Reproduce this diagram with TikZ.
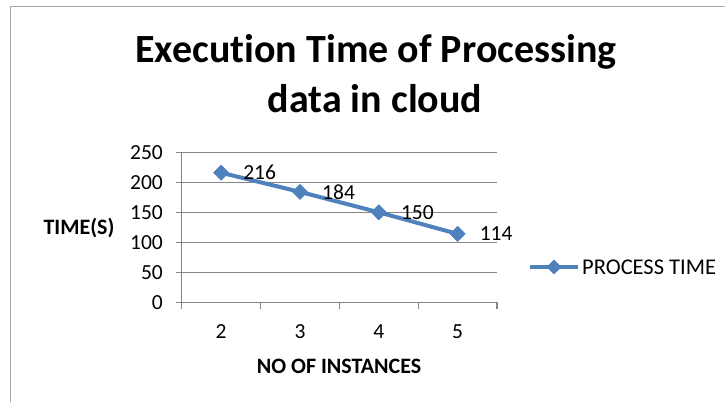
\documentclass[tikz,border=0pt]{standalone}
\usepackage{fontspec}
\setmainfont[RawFeature={-liga}]{Carlito}
\usetikzlibrary{shapes.geometric}
\definecolor{serblue}{HTML}{4F81BD}
\definecolor{gridgray}{HTML}{868686}
\definecolor{framegray}{HTML}{A6A6A6}
\begin{document}
\begin{tikzpicture}[x=1pt,y=-1pt,
  gridline/.style={draw=gridgray,line width=1.3pt},
  axisline/.style={draw=gridgray,line width=1.3pt},
  ticklab/.style={inner sep=0pt,font=\fontsize{21.5}{24}\selectfont},
  datalab/.style={inner sep=0pt,anchor=west,font=\fontsize{21.5}{24}\selectfont},
  boldlab/.style={inner sep=0pt,font=\bfseries\fontsize{22}{26}\selectfont},
  marker/.style={diamond,fill=serblue,draw=serblue,line width=0.6pt,inner sep=0pt,minimum size=15pt},
  serline/.style={draw=serblue,line width=4pt,line join=round}]
\useasboundingbox (0,0) rectangle (725,402);
\fill[white] (0,0) rectangle (725,402);
% outer frame
\draw[framegray,line width=1.6pt] (10.5,402) -- (10.5,6.5) -- (725,6.5);
% title
\node[anchor=base,inner sep=0pt,font=\bfseries\fontsize{40}{44}\selectfont] (t1) at (376,62) {Execution Time of Processing};
\node[anchor=base,inner sep=0pt,font=\bfseries\fontsize{40}{44}\selectfont] (t2) at (375,112) {data in cloud};
% grid and y ticks
\foreach \v in {0,50,...,250}{
  \pgfmathsetmacro{\yy}{302.3-0.6*\v}
  \draw[gridline] (176,\yy) -- (181.7,\yy);
  \node[ticklab,anchor=east] (yl\v) at (163,\yy) {\v};
}
\foreach \v in {50,100,...,250}{
  \pgfmathsetmacro{\yy}{302.3-0.6*\v}
  \draw[gridline] (181.7,\yy) -- (497,\yy);
}
% axes
\draw[axisline] (181.7,152.3) -- (181.7,302.3);
\draw[axisline] (181.7,302.3) -- (497,302.3);
\foreach \xx in {181.7,260.5,339.3,418.2,497}{
  \draw[axisline] (\xx,302.3) -- (\xx,309);
}
% x tick labels
\foreach \c/\xx in {2/221.1,3/300,4/378.8,5/457.6}{
  \node[ticklab] (xl\c) at (\xx,332) {\c};
}
% axis titles
\node[boldlab] (ytitle) at (79,228) {TIME(S)};
\node[boldlab] (xtitle) at (339,366) {NO OF INSTANCES};
% series
\node[marker] (m2) at (221.1,{302.3-0.6*216}) {};
\node[marker] (m3) at (300,{302.3-0.6*184}) {};
\node[marker] (m4) at (378.8,{302.3-0.6*150}) {};
\node[marker] (m5) at (457.6,{302.3-0.6*114}) {};
\draw[serline] (m2.center) -- (m3.center) -- (m4.center) -- (m5.center);
\foreach \i in {2,3,4,5}{ \node[marker] at (m\i) {}; }
% data labels
\node[datalab] (d2) at ([xshift=22pt]m2.center) {216};
\node[datalab] (d3) at ([xshift=22pt]m3.center) {184};
\node[datalab] (d4) at ([xshift=22pt]m4.center) {150};
\node[datalab] (d5) at ([xshift=22pt]m5.center) {114};
% legend
\coordinate (la) at (530,267);
\coordinate (lb) at (578,267);
\draw[serline] (la) -- (lb);
\node[marker,minimum size=14pt] (lm) at (554,267) {};
\node[ticklab,anchor=west,font=\fontsize{22.5}{26}\selectfont] (lt) at (582,267) {PROCESS TIME};
\end{tikzpicture}
\end{document}
